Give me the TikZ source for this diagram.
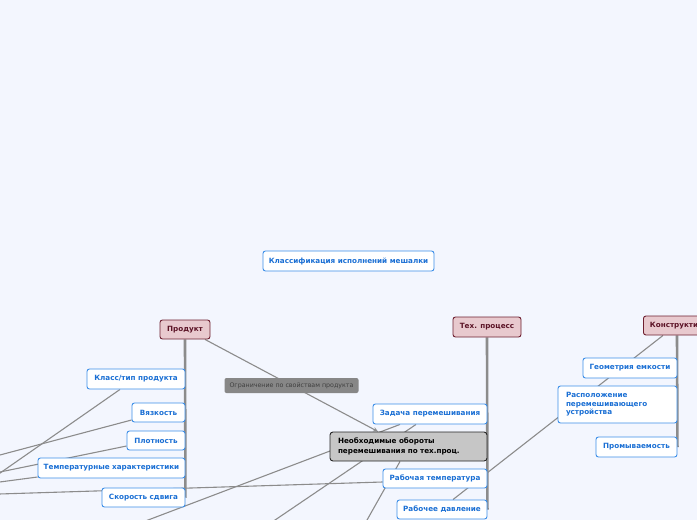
\documentclass[tikz,border=0pt]{standalone}
\usepackage{fontspec}
\newfontfamily\mapfont{DejaVu Sans}
\usetikzlibrary{arrows.meta,backgrounds}

\definecolor{bgblue}{HTML}{F3F6FE}
\definecolor{topicblue}{HTML}{3C8EE8}
\definecolor{topictext}{HTML}{1A6FD4}
\definecolor{mainfill}{HTML}{E8C9CE}
\definecolor{mainline}{HTML}{6E1F30}
\definecolor{maintext}{HTML}{5B1326}
\definecolor{hubfill}{HTML}{C6C6C6}
\definecolor{relfill}{HTML}{878787}
\definecolor{reltext}{HTML}{3F3F3F}
\definecolor{linkgray}{HTML}{8C8C8C}

\tikzset{
  topic/.style={draw=topicblue, fill=white, text=topictext, line width=0.9pt,
    rounded corners=2.5pt, inner sep=0pt,
    font=\mapfont\bfseries\fontsize{7.2}{8.6}\selectfont},
  branch/.style={draw=mainline, fill=mainfill, text=maintext, line width=0.9pt,
    rounded corners=2.5pt, inner sep=0pt,
    font=\mapfont\bfseries\fontsize{7.2}{8.6}\selectfont},
  hub/.style={draw=black!85, fill=hubfill, text=black, line width=0.9pt,
    rounded corners=3pt, inner sep=0pt,
    font=\mapfont\bfseries\fontsize{7.2}{9.4}\selectfont},
  rel/.style={fill=relfill, text=reltext, rounded corners=2pt, inner sep=0pt,
    minimum width=134pt, minimum height=15pt,
    font=\mapfont\fontsize{6.3}{7.5}\selectfont},
  link/.style={draw=linkgray, line width=1.1pt},
  trunk/.style={draw=linkgray, line width=2.6pt}
}

\begin{document}
\begin{tikzpicture}[x=1pt,y=-1pt]
\useasboundingbox (0,0) rectangle (697,520);

% Title
\node[topic, minimum width=171pt, minimum height=20pt] (klassif) at (348.5,261)
  {Классификация исполнений мешалки};

% Main branches
\node[branch, minimum width=50pt, minimum height=19pt] (prod) at (185,329.5) {Продукт};
\node[branch, minimum width=68pt, minimum height=20pt] (tech) at (487,327) {Тех. процесс};
\node[branch, anchor=west, inner xsep=6.5pt, text width=67pt, align=left,
  minimum height=19pt] (konstr) at (643,325.5) {Конструкти};

% Product properties
\node[topic, minimum width=98pt, minimum height=20pt] (klass) at (136,379) {Класс/тип продукта};
\node[topic, minimum width=53pt, minimum height=19pt] (vyaz) at (158.5,412.5) {Вязкость};
\node[topic, minimum width=58pt, minimum height=19pt] (plot) at (156,440.5) {Плотность};
\node[topic, minimum width=147pt, minimum height=20pt] (temp) at (111.5,468) {Температурные характеристики};
\node[topic, minimum width=83pt, minimum height=19pt] (skor) at (143.5,497.5) {Скорость сдвига};

% Process parameters
\node[topic, minimum width=114pt, minimum height=20pt] (zad) at (430,414) {Задача перемешивания};
\node[hub, text width=141pt, inner xsep=8pt, align=left, minimum height=29pt] (hub) at (408.5,446.5)
  {Необходимые обороты\\перемешивания по тех.проц.};
\node[topic, minimum width=104pt, minimum height=19pt] (rabt) at (435,478.5) {Рабочая температура};
\node[topic, minimum width=90pt, minimum height=19pt] (rabd) at (442,509.5) {Рабочее давление};

% Design
\node[topic, minimum width=94pt, minimum height=20pt] (geom) at (630,368) {Геометрия емкости};
\node[topic, text width=103pt, inner xsep=8pt, align=left, minimum height=37pt] (rasp) at (617.5,404.5)
  {Расположение\\перемешивающего\\устройства};
\node[topic, minimum width=81pt, minimum height=20pt] (prom) at (636.5,447) {Промываемость};

% Free ends outside the page
\coordinate (eklass) at (-24,489.8);
\coordinate (evyaz) at (-20,460.3);
\coordinate (eplot) at (-20,476.1);
\coordinate (etemp) at (-20,484.6);
\coordinate (erabt) at (-20,494.6);
\coordinate (ezadA) at (122.8,529.6);
\coordinate (ezadB) at (260.9,529.6);
\coordinate (ehub) at (360.4,531.8);

\begin{scope}[on background layer]
  \clip (0,0) rectangle (697,520);
  \fill[bgblue] (0,0) rectangle (697,520);

  % Trunks
  \draw[trunk] (prod.south) -- (skor.east);
  \draw[trunk] (tech.south) -- (rabd.east);
  \draw[trunk] ([xshift=34pt]konstr.south west) -- (prom.east);

  % Relations
  \draw[link, -{Stealth[length=5pt,width=4.5pt]}] ([xshift=20pt]prod.south)
    -- node[rel] (ogr) {Ограничение по свойствам продукта} ([xshift=-30.5pt]hub.north);
  \draw[link] ([xshift=-16pt]klass.south) -- (eklass);
  \draw[link] ([yshift=-7.5pt]vyaz.west) -- (evyaz);
  \draw[link] ([yshift=-5.5pt]plot.west) -- (eplot);
  \draw[link] ([yshift=-9pt]temp.west) -- (etemp);
  \draw[link] ([yshift=-3.5pt]rabt.west) -- (erabt);
  \draw[link] ([xshift=-30pt]zad.south) -- (ezadA);
  \draw[link] ([xshift=-14pt]zad.south) -- (ezadB);
  \draw[link] ([xshift=-8.5pt]hub.south) -- (ehub);
  \draw[link] ([xshift=20pt]konstr.south west) -- ([xshift=11pt]rabd.north);
\end{scope}

\end{tikzpicture}
\end{document}
